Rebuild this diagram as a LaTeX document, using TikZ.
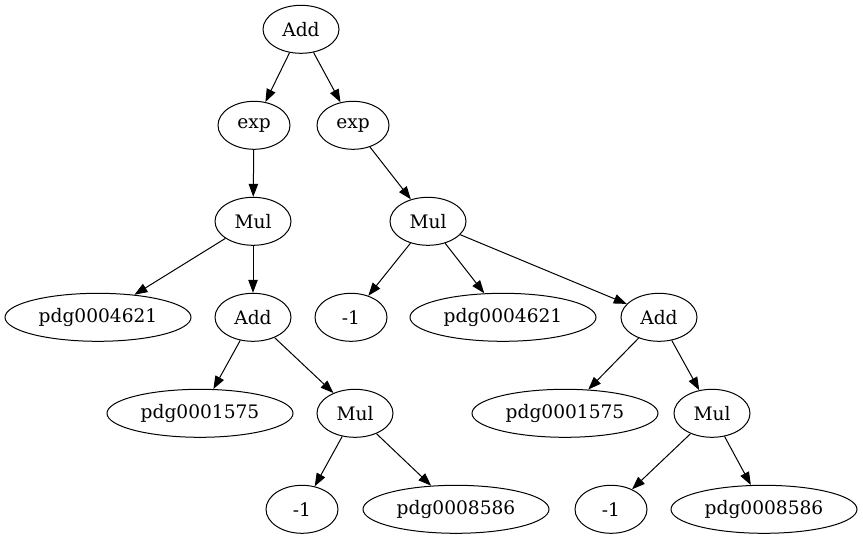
\documentclass[tikz,border=0pt]{standalone}
\usepackage{fontspec}
\setmainfont{DejaVu Serif}
\usetikzlibrary{shapes.geometric,arrows.meta}
\begin{document}
\begin{tikzpicture}[x=1pt,y=-1pt,
  nd/.style={ellipse,draw,line width=1pt,inner sep=0pt,minimum height=48pt,minimum width=76pt,font=\fontsize{18.6}{20}\selectfont},
  sm/.style={nd,minimum width=72pt},
  lg/.style={nd,minimum width=186pt},
  ar/.style={line width=1pt,-{Triangle[length=13pt,width=9.5pt]}}]
\useasboundingbox (0,0) rectangle (863,539);
\node[nd] (a0) at (301,29.3) {Add};
\node[sm] (e1) at (254,125.3) {exp};
\node[sm] (e2) at (353,125.3) {exp};
\node[nd] (m1) at (253,221.3) {Mul};
\node[nd] (m2) at (428,221.3) {Mul};
\node[lg] (p1) at (98,317.3) {pdg0004621};
\node[nd] (a1) at (253,317.3) {Add};
\node[sm] (n1) at (351,317.3) {-1};
\node[lg] (p2) at (503,317.3) {pdg0004621};
\node[nd] (a2) at (659,317.3) {Add};
\node[lg] (q1) at (200,413.3) {pdg0001575};
\node[nd] (m3) at (355,413.3) {Mul};
\node[lg] (q2) at (565,413.3) {pdg0001575};
\node[nd] (m4) at (712,413.3) {Mul};
\node[sm] (n2) at (302,509.3) {-1};
\node[lg] (r1) at (456,509.3) {pdg0008586};
\node[sm] (n3) at (611,509.3) {-1};
\node[lg] (r2) at (764,509.3) {pdg0008586};
\draw[ar] (a0) -- (e1);
\draw[ar] (a0) -- (e2);
\draw[ar] (e1) -- (m1);
\draw[ar] (e2) -- (m2);
\draw[ar] (m1) -- (p1);
\draw[ar] (m1) -- (a1);
\draw[ar] (m2) -- (n1);
\draw[ar] (m2) -- (p2);
\draw[ar] (m2) -- (a2);
\draw[ar] (a1) -- (q1);
\draw[ar] (a1) -- (m3);
\draw[ar] (a2) -- (q2);
\draw[ar] (a2) -- (m4);
\draw[ar] (m3) -- (n2);
\draw[ar] (m3) -- (r1);
\draw[ar] (m4) -- (n3);
\draw[ar] (m4) -- (r2);
\end{tikzpicture}
\end{document}
